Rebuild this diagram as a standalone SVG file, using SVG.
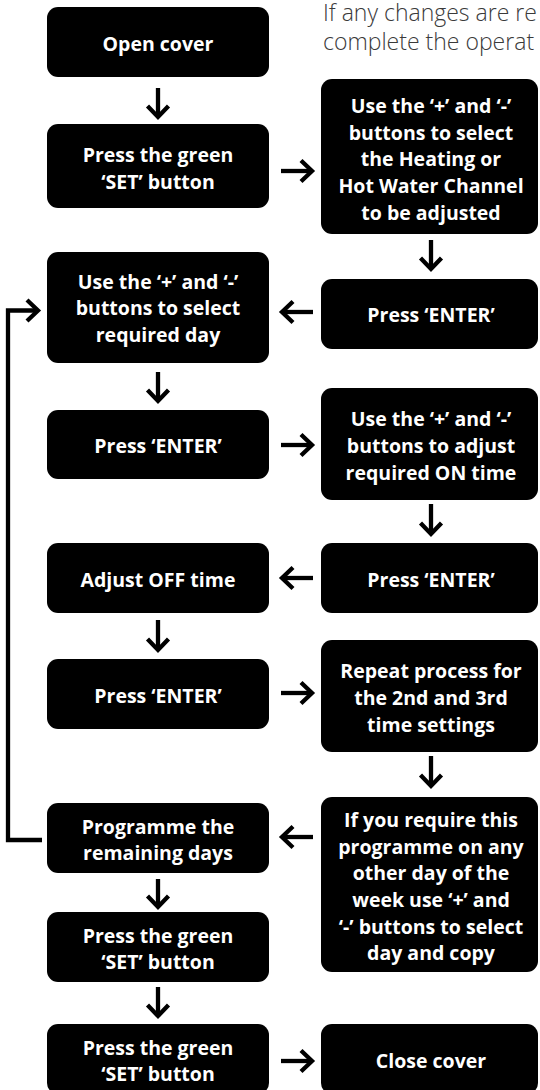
<svg xmlns="http://www.w3.org/2000/svg" width="540" height="1090" viewBox="0 0 540 1090">
<style>
.box{fill:#000}
.t{font-family:"Open Sans","Liberation Sans",sans-serif;font-weight:700;font-size:19.5px;fill:#fff;text-anchor:middle}
.intro{font-family:"Open Sans","Liberation Sans",sans-serif;font-weight:300;font-size:23px;fill:#3a3a3a}
.c{fill:none;stroke:#000;stroke-width:4.3;stroke-linejoin:miter}
</style>
<defs>
<marker id="ah" markerUnits="userSpaceOnUse" viewBox="-14 -13 16 26" refX="0" refY="0" markerWidth="16" markerHeight="26" orient="auto" overflow="visible">
<path d="M-11,-10.5 L0,0 L-11,10.5" fill="none" stroke="#000" stroke-width="4.3" stroke-linejoin="miter"/>
</marker>
</defs>
<rect width="540" height="1090" fill="#fff"/>
<text class="intro" x="323" y="21">If any changes are re</text>
<text class="intro" x="323" y="50">complete the operat</text>

<g id="connectors">
<path class="c" d="M158 88 V117" marker-end="url(#ah)"/>
<path class="c" d="M281 171 H312" marker-end="url(#ah)"/>
<path class="c" d="M431 240 V269" marker-end="url(#ah)"/>
<path class="c" d="M313 312 H282" marker-end="url(#ah)"/>
<path class="c" d="M158 372 V401" marker-end="url(#ah)"/>
<path class="c" d="M281 445 H312" marker-end="url(#ah)"/>
<path class="c" d="M431 504 V534" marker-end="url(#ah)"/>
<path class="c" d="M313 578 H282" marker-end="url(#ah)"/>
<path class="c" d="M158 620 V650" marker-end="url(#ah)"/>
<path class="c" d="M281 693 H312" marker-end="url(#ah)"/>
<path class="c" d="M431 756 V786" marker-end="url(#ah)"/>
<path class="c" d="M313 837 H282" marker-end="url(#ah)"/>
<path class="c" d="M158 879 V907" marker-end="url(#ah)"/>
<path class="c" d="M158 987 V1016" marker-end="url(#ah)"/>
<path class="c" d="M281 1061 H312" marker-end="url(#ah)"/>
<path class="c" d="M42 840 H8 V310.5 H38" marker-end="url(#ah)"/>
</g>

<g id="n1"><rect class="box" x="47" y="7" width="222" height="70" rx="11"/>
<text class="t" x="158" y="51">Open cover</text></g>

<g id="n2"><rect class="box" x="47" y="124" width="222" height="84" rx="11"/>
<text class="t" x="158" y="162">Press the green</text>
<text class="t" x="158" y="188.7">‘SET’ button</text></g>

<g id="n3"><rect class="box" x="321" y="79" width="217" height="155" rx="11"/>
<text class="t" x="431" y="113">Use the ‘+’ and ‘-’</text>
<text class="t" x="431" y="139.7">buttons to select</text>
<text class="t" x="431" y="166.4">the Heating or</text>
<text class="t" x="431" y="193.1">Hot Water Channel</text>
<text class="t" x="431" y="219.8">to be adjusted</text></g>

<g id="n4"><rect class="box" x="321" y="279" width="217" height="70" rx="11"/>
<text class="t" x="431" y="322">Press ‘ENTER’</text></g>

<g id="n5"><rect class="box" x="47" y="252" width="222" height="111" rx="11"/>
<text class="t" x="158" y="288.5">Use the ‘+’ and ‘-’</text>
<text class="t" x="158" y="315.2">buttons to select</text>
<text class="t" x="158" y="341.9">required day</text></g>

<g id="n6"><rect class="box" x="47" y="410" width="222" height="69" rx="11"/>
<text class="t" x="158" y="453">Press ‘ENTER’</text></g>

<g id="n7"><rect class="box" x="321" y="388" width="217" height="112" rx="11"/>
<text class="t" x="431" y="426.3">Use the ‘+’ and ‘-’</text>
<text class="t" x="431" y="453">buttons to adjust</text>
<text class="t" x="431" y="479.7">required ON time</text></g>

<g id="n8"><rect class="box" x="321" y="543" width="217" height="70" rx="11"/>
<text class="t" x="431" y="587">Press ‘ENTER’</text></g>

<g id="n9"><rect class="box" x="47" y="543" width="222" height="70" rx="11"/>
<text class="t" x="158" y="587">Adjust OFF time</text></g>

<g id="n10"><rect class="box" x="47" y="659" width="222" height="70" rx="11"/>
<text class="t" x="158" y="703">Press ‘ENTER’</text></g>

<g id="n11"><rect class="box" x="321" y="640" width="217" height="112" rx="11"/>
<text class="t" x="431" y="678.3">Repeat process for</text>
<text class="t" x="431" y="705">the 2nd and 3rd</text>
<text class="t" x="431" y="731.7">time settings</text></g>

<g id="n12"><rect class="box" x="321" y="797" width="217" height="175" rx="11"/>
<text class="t" x="431" y="826.8">If you require this</text>
<text class="t" x="431" y="853.5">programme on any</text>
<text class="t" x="431" y="880.2">other day of the</text>
<text class="t" x="431" y="906.9">week use ‘+’ and</text>
<text class="t" x="431" y="933.6">‘-’ buttons to select</text>
<text class="t" x="431" y="960.3">day and copy</text></g>

<g id="n13"><rect class="box" x="47" y="803" width="222" height="70" rx="11"/>
<text class="t" x="158" y="833.7">Programme the</text>
<text class="t" x="158" y="860.4">remaining days</text></g>

<g id="n14"><rect class="box" x="47" y="912" width="222" height="70" rx="11"/>
<text class="t" x="158" y="942.7">Press the green</text>
<text class="t" x="158" y="969.4">‘SET’ button</text></g>

<g id="n15"><rect class="box" x="47" y="1024" width="222" height="70" rx="11"/>
<text class="t" x="158" y="1054.7">Press the green</text>
<text class="t" x="158" y="1081.4">‘SET’ button</text></g>

<g id="n16"><rect class="box" x="321" y="1024" width="217" height="70" rx="11"/>
<text class="t" x="431" y="1068">Close cover</text></g>
</svg>
